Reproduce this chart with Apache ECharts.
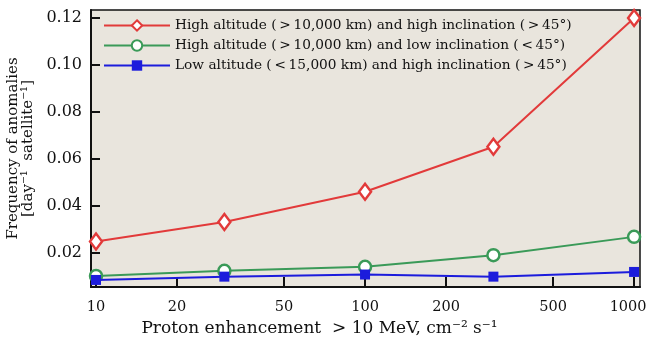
<!DOCTYPE html>
<html>
<head>
    <meta charset="utf-8">
    <script src="https://cdn.jsdelivr.net/npm/echarts@6/dist/echarts.min.js"></script>
    <style>
        html, body { margin: 0; padding: 0; background: #fff; }
    </style>
</head>
<body>
    <div id="main" style="width: 649px;height:340px;"></div>
    <script>
        // proton enhancement values (x) and anomaly frequencies per group
        var protonFlux = [10, 30, 100, 300, 1000];
        var highAltHighInc = [0.0248, 0.0331, 0.0460, 0.0651, 0.1198];
        var highAltLowInc = [0.0102, 0.0124, 0.0141, 0.0190, 0.0268];
        var lowAltHighInc = [0.0085, 0.0099, 0.0108, 0.0099, 0.0119];
        var xTicks = [10, 20, 50, 100, 200, 500, 1000];
        var yTicks = [0.02, 0.04, 0.06, 0.08, 0.10, 0.12];

        var seriesNames = [
            'High altitude (\u2009>\u200910,000 km) and high inclination (\u2009>\u200945\u00b0)',
            'High altitude (\u2009>\u200910,000 km) and low inclination (\u2009<\u200945\u00b0)',
            'Low altitude (\u2009<\u200915,000 km) and high inclination (\u2009>\u200945\u00b0)'
        ];

        function pairs(ys) {
            return protonFlux.map(function (x, i) { return [x, ys[i]]; });
        }

        var serif = '"DejaVu Serif", "Liberation Serif", serif';
        var myChart = echarts.init(document.getElementById('main'));
        var option = {
            animation: false,
            textStyle: { fontFamily: serif },
            grid: {
                left: 91,
                right: 9,
                top: 10,
                bottom: 53,
                outerBoundsMode: 'none',
                containLabel: false,
                show: true,
                backgroundColor: '#e9e5dd',
                borderColor: '#111',
                borderWidth: 1.5
            },
            legend: {
                orient: 'vertical',
                left: 98,
                top: 13,
                itemGap: 5,
                itemWidth: 66,
                itemHeight: 13,
                textStyle: { fontFamily: serif, fontSize: 13.7, lineHeight: 15, color: '#111' },
                data: seriesNames
            },
            xAxis: {
                type: 'log',
                logBase: 10,
                min: 9.58,
                max: 1052,
                name: 'Proton enhancement  > 10 MeV, cm\u207b\u00b2 s\u207b\u00b9',
                nameLocation: 'middle',
                nameGap: 32,
                nameTextStyle: { fontFamily: serif, fontSize: 17, color: '#111', padding: [0, 92, 0, 0] },
                axisLine: { lineStyle: { color: '#111', width: 2 } },
                axisTick: { inside: true, length: 10, customValues: xTicks, lineStyle: { color: '#111', width: 2 } },
                axisLabel: {
                    customValues: xTicks, fontFamily: serif, fontSize: 14.5, color: '#111', margin: 13,
                    formatter: function (v) { return v >= 1000 ? '{last|' + v + '}' : String(v); },
                    rich: { last: { fontFamily: serif, fontSize: 14.5, color: '#111', padding: [0, 12, 0, 0] } }
                },
                minorTick: { show: false },
                splitLine: { show: false }
            },
            yAxis: {
                type: 'value',
                min: 0.0055,
                max: 0.1232,
                name: 'Frequency of anomalies\n[day\u207b\u00b9  satellite\u207b\u00b9]',
                nameLocation: 'middle',
                nameGap: 54,
                nameRotate: 90,
                nameTextStyle: { fontFamily: serif, fontSize: 15, color: '#111', lineHeight: 15 },
                axisLine: { show: true, lineStyle: { color: '#111', width: 2 } },
                axisTick: { inside: true, length: 9, customValues: yTicks, lineStyle: { color: '#111', width: 2 } },
                axisLabel: {
                    customValues: yTicks, fontFamily: serif, fontSize: 16, color: '#111', margin: 9,
                    formatter: function (v) { return v.toFixed(2); }
                },
                splitLine: { show: false }
            },
            series: [{
                name: seriesNames[0],
                type: 'line',
                data: pairs(highAltHighInc),
                color: '#e23a3a',
                symbol: 'diamond',
                symbolSize: [12, 16],
                itemStyle: { color: '#fff', borderColor: '#e23a3a', borderWidth: 2.5 },
                lineStyle: { color: '#e23a3a', width: 2 },
                z: 5
            }, {
                name: seriesNames[1],
                type: 'line',
                data: pairs(highAltLowInc),
                color: '#3a9a58',
                symbol: 'circle',
                symbolSize: 12,
                itemStyle: { color: '#fff', borderColor: '#3a9a58', borderWidth: 2.5 },
                lineStyle: { color: '#3a9a58', width: 2 },
                z: 4
            }, {
                name: seriesNames[2],
                type: 'line',
                data: pairs(lowAltHighInc),
                color: '#1c1cdc',
                symbol: 'rect',
                symbolSize: 10,
                itemStyle: { color: '#1c1cdc', borderColor: '#1c1cdc', borderWidth: 0 },
                lineStyle: { color: '#1c1cdc', width: 2 },
                z: 6
            }]
        };
        myChart.setOption(option);
    </script>
</body>
</html>
